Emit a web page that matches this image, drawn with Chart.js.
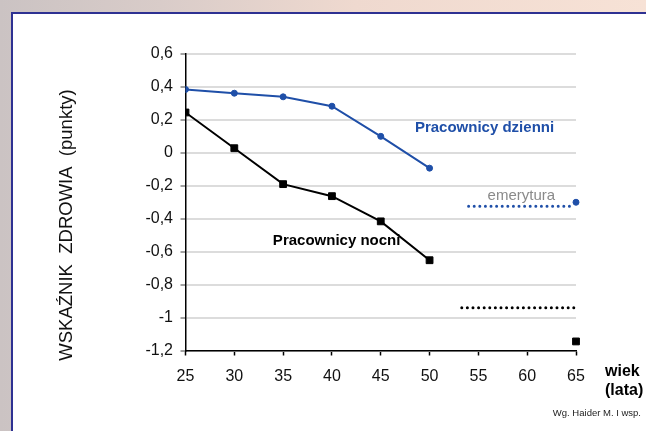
<!DOCTYPE html>
<html>
<head>
<meta charset="utf-8">
<script src="https://cdn.jsdelivr.net/npm/chart.js@4"></script>
<style>
html,body{margin:0;padding:0;}
body{width:646px;height:431px;overflow:hidden;position:relative;
background:linear-gradient(90deg,#cbc3c3 0%,#d9ccc9 25%,#efd9cf 55%,#f7e2d6 100%);}
#panel{position:absolute;left:11px;top:12px;width:700px;height:500px;background:#fff;border:2px solid #2e3192;}
#wrap{position:absolute;left:0;top:0;width:646px;height:431px;}
</style>
</head>
<body>
<div id="panel"></div>
<div id="wrap"><canvas id="c" width="646" height="431"></canvas></div>
<script>
// wiek (lata)
const ages = [25, 30, 35, 40, 45, 50];
// wskaźnik zdrowia
const dayWorkers = [0.385, 0.362, 0.34, 0.283, 0.10, -0.093];
const nightWorkers = [0.245, 0.028, -0.19, -0.263, -0.416, -0.652];
// emerytura
const retireAge = [65];
const dayRetired = [-0.30];
const nightRetired = [-1.145];
const dotsDayX = [54, 64.5];
const dotsDayY = [-0.325, -0.325];
const dotsNightX = [53.3, 65.1];
const dotsNightY = [-0.94, -0.94];

const BLUE = '#1f4fa8';
const FONT = '"Liberation Sans", Arial, sans-serif';

const pts = (xs, ys) => xs.map((x, i) => ({x: x, y: ys[i]}));

// podpisy
const notes = {
  id: 'notes',
  afterDraw(ch) {
    const c = ch.ctx, x = ch.scales.x, y = ch.scales.y;
    c.save();
    c.textBaseline = 'middle';
    c.textAlign = 'left';
    c.font = 'bold 15px ' + FONT;
    c.fillStyle = BLUE;
    c.fillText('Pracownicy dzienni', x.getPixelForValue(48.5), y.getPixelForValue(0.15));
    c.fillStyle = '#000';
    c.fillText('Pracownicy nocni', x.getPixelForValue(33.95), y.getPixelForValue(-0.537));
    c.textAlign = 'center';
    c.font = '15px ' + FONT;
    c.fillStyle = '#8a8a8a';
    c.fillText('emerytura', x.getPixelForValue(59.4), y.getPixelForValue(-0.263));
    c.fillStyle = '#000';
    c.textAlign = 'left';
    c.font = 'bold 16px ' + FONT;
    c.fillText('wiek', 605, 372);
    c.fillText('(lata)', 605, 391);
    c.textAlign = 'right';
    c.font = '9.5px ' + FONT;
    c.fillStyle = '#222';
    c.fillText('Wg. Haider M. I wsp.', 641, 413);
    c.translate(67, 225);
    c.rotate(-Math.PI / 2);
    c.textAlign = 'center';
    c.font = '18.5px ' + FONT;
    c.fillStyle = '#111';
    c.fillText('WSKAŹNIK  ZDROWIA  (punkty)', 0, 0);
    c.restore();
  }
};

new Chart(document.getElementById('c'), {
  type: 'line',
  data: {
    datasets: [
      {data: pts(ages, dayWorkers), borderColor: BLUE, backgroundColor: BLUE, borderWidth: 2,
       pointStyle: 'circle', pointRadius: 3, pointBorderWidth: 1},
      {data: pts(ages, nightWorkers), borderColor: '#000', backgroundColor: '#000', borderWidth: 2,
       pointStyle: 'rect', pointRadius: 4.8, pointBorderWidth: 1},
      {data: pts(retireAge, dayRetired), showLine: false, borderColor: BLUE, backgroundColor: BLUE,
       pointStyle: 'circle', pointRadius: 3, pointBorderWidth: 1, clip: false},
      {data: pts(retireAge, nightRetired), showLine: false, borderColor: '#000', backgroundColor: '#000',
       pointStyle: 'rect', pointRadius: 4.8, pointBorderWidth: 1, clip: false},
      {data: pts(dotsDayX, dotsDayY), borderColor: BLUE, borderWidth: 3, borderDash: [0, 5.6],
       borderCapStyle: 'round', pointRadius: 0, clip: false},
      {data: pts(dotsNightX, dotsNightY), borderColor: '#000', borderWidth: 3, borderDash: [0, 5.6],
       borderCapStyle: 'round', pointRadius: 0, clip: false}
    ]
  },
  options: {
    responsive: false,
    animation: false,
    layout: {padding: {left: 40, right: 70, top: 54, bottom: 40.5}},
    plugins: {legend: {display: false}, tooltip: {enabled: false}},
    scales: {
      x: {
        type: 'linear', min: 25, max: 65,
        ticks: {stepSize: 5, padding: 11, color: '#111', maxRotation: 0, font: {size: 16, family: FONT}},
        grid: {drawOnChartArea: false, tickLength: 5, tickColor: '#000', tickWidth: 1.5},
        border: {color: '#000', width: 1.5},
        afterFit: s => { s.height = 40; }
      },
      y: {
        min: -1.2, max: 0.6,
        ticks: {stepSize: 0.2, padding: 7.5, color: '#111', font: {size: 16, family: FONT},
          callback: v => Number(v.toFixed(1)).toString().replace('.', ',')},
        grid: {color: '#dcdcdc', lineWidth: 2, tickLength: 5, tickColor: '#444', tickWidth: 1},
        border: {color: '#000', width: 1.5},
        afterFit: s => { s.width = 145.5; }
      }
    }
  },
  plugins: [notes]
});
</script>
</body>
</html>
